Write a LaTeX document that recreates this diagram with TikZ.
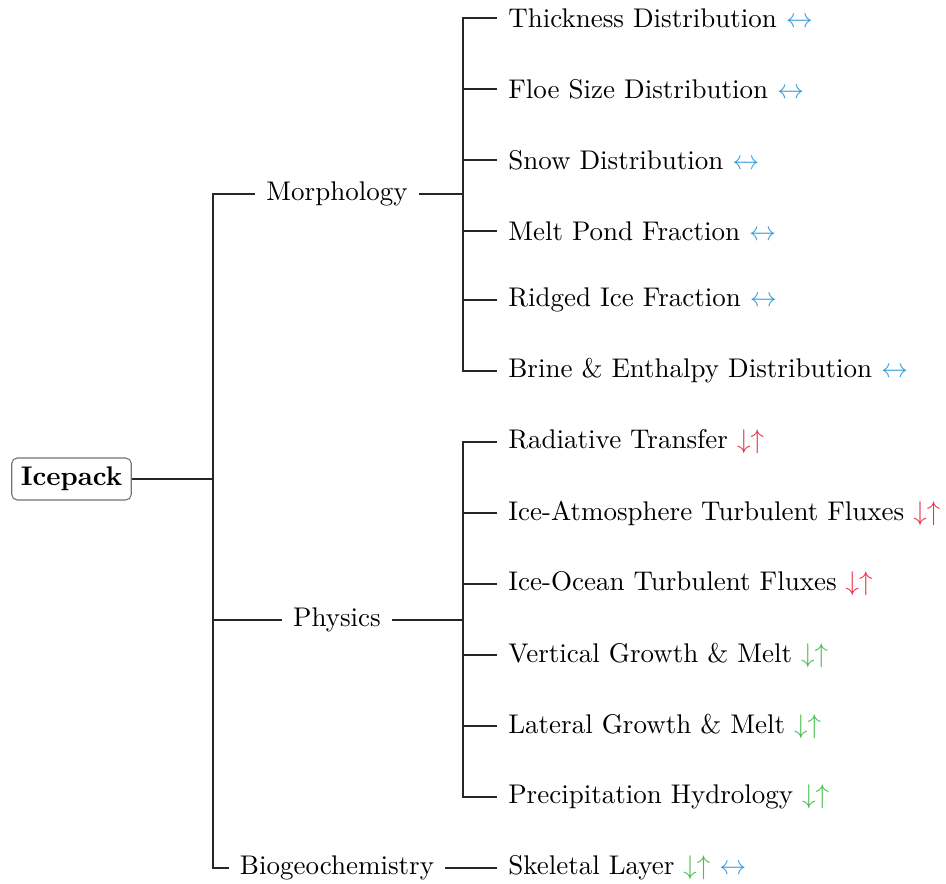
\documentclass[tikz,border=0pt]{standalone}
\usepackage{xcolor}
\definecolor{arrblue}{RGB}{60,160,215}
\definecolor{arrred}{RGB}{232,50,75}
\definecolor{arrgreen}{RGB}{70,190,80}
\newcommand{\lr}{{\color{arrblue}$\leftrightarrow$}}
\newcommand{\du}[1]{{\color{#1}$\downarrow\uparrow$}}
\begin{document}
\begin{tikzpicture}[x=0.3704pt,y=-0.3704pt,
  rootbox/.style={draw=black!55,rounded corners=2pt,inner sep=3.33pt,font=\bfseries},
  midbox/.style={inner sep=4pt,anchor=center},
  leafbox/.style={inner sep=4pt,anchor=west},
  edge/.style={draw=black!85,line width=0.4pt}]
\useasboundingbox (0,0) rectangle (946,884);
% root
\node[rootbox] (root) at (71.5,479) {Icepack};
% middle
\node[midbox] (morph) at (337,194) {Morphology};
\node[midbox] (phys) at (337,620) {Physics};
\node[midbox] (bio) at (337,868) {Biogeochemistry};
% leaves
\node[leafbox] (m1) at (497,18) {Thickness Distribution \lr};
\node[leafbox] (m2) at (497,89) {Floe Size Distribution \lr};
\node[leafbox] (m3) at (497,160) {Snow Distribution \lr};
\node[leafbox] (m4) at (497,231) {Melt Pond Fraction \lr};
\node[leafbox] (m5) at (497,300) {Ridged Ice Fraction \lr};
\node[leafbox] (m6) at (497,371) {Brine \& Enthalpy Distribution \lr};
\node[leafbox] (p1) at (497,442) {Radiative Transfer \du{arrred}};
\node[leafbox] (p2) at (497,513) {Ice-Atmosphere Turbulent Fluxes \du{arrred}};
\node[leafbox] (p3) at (497,584) {Ice-Ocean Turbulent Fluxes \du{arrred}};
\node[leafbox] (p4) at (497,655) {Vertical Growth \& Melt \du{arrgreen}};
\node[leafbox] (p5) at (497,726) {Lateral Growth \& Melt \du{arrgreen}};
\node[leafbox] (p6) at (497,797) {Precipitation Hydrology \du{arrgreen}};
\node[leafbox] (b1) at (497,868) {Skeletal Layer \du{arrgreen} \lr};
% forks
\coordinate (f0) at (213,479);
\coordinate (f1) at (463,194);
\coordinate (f2) at (463,620);
% edges
\draw[edge] (root.east) -- (f0);
\draw[edge] (f0) |- (morph.west);
\draw[edge] (f0) |- (phys.west);
\draw[edge] (f0) |- (bio.west);
\draw[edge] (morph.east) -- (f1);
\foreach \n in {m1,m2,m3,m4,m5,m6} \draw[edge] (f1) |- (\n.west);
\draw[edge] (phys.east) -- (f2);
\foreach \n in {p1,p2,p3,p4,p5,p6} \draw[edge] (f2) |- (\n.west);
\draw[edge] (bio.east) -- (b1.west);
\end{tikzpicture}
\end{document}
